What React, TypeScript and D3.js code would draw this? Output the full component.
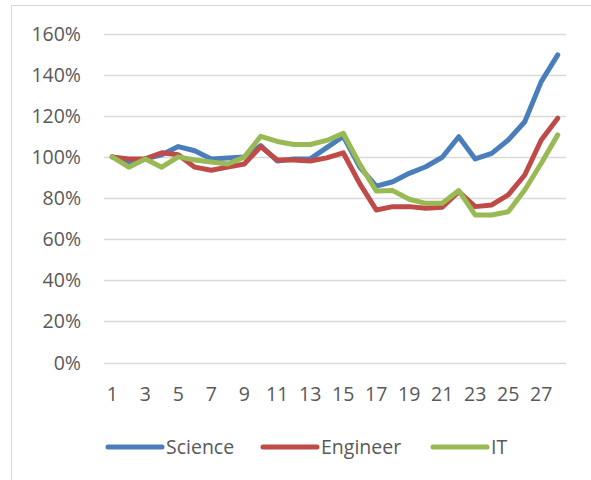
import React from "react";
import * as d3 from "d3";

const categories: number[] = d3.range(1, 29);
const science: number[] = [1.0, 0.97, 0.99, 1.01, 1.05, 1.03, 0.99, 0.995, 1.0, 1.055, 0.98, 0.99, 0.99, 1.045, 1.1, 0.95, 0.858, 0.879, 0.92, 0.952, 0.998, 1.098, 0.99, 1.017, 1.082, 1.171, 1.366, 1.496];
const engineer: number[] = [1.0, 0.99, 0.99, 1.02, 1.01, 0.95, 0.935, 0.95, 0.965, 1.05, 0.985, 0.985, 0.98, 0.995, 1.02, 0.87, 0.742, 0.758, 0.758, 0.75, 0.755, 0.831, 0.758, 0.766, 0.815, 0.912, 1.082, 1.188];
const it: number[] = [1.0, 0.95, 0.99, 0.95, 1.0, 0.985, 0.975, 0.965, 0.999, 1.1, 1.075, 1.06, 1.06, 1.08, 1.115, 0.965, 0.834, 0.836, 0.794, 0.774, 0.774, 0.836, 0.717, 0.717, 0.733, 0.839, 0.969, 1.107];
const seriesNames: string[] = ["Science", "Engineer", "IT"];
const seriesColors: string[] = ["#4A7EBB", "#BE4B48", "#98B954"];
const yTicks: number[] = [0, 0.2, 0.4, 0.6, 0.8, 1.0, 1.2, 1.4, 1.6];
const xTickLabels: number[] = categories.filter((c) => c % 2 === 1);

export default function App() {
  const W = 591, H = 480;
  const left = 104, right = 566, top = 33.5, bottom = 362.5;
  const x = d3.scaleBand<number>().domain(categories).range([left, right]);
  const y = d3.scaleLinear().domain([0, 1.6]).range([bottom, top]);
  const cx = (c: number) => (x(c) as number) + x.bandwidth() / 2;
  const line = d3.line<number>().x((_, i) => cx(categories[i])).y((v) => y(v));
  const allSeries = [science, engineer, it];
  const font = "'Open Sans', sans-serif";
  const legendX = [108, 263, 433];
  return (
    <div style={{ position: "absolute", left: 0, top: 0 }}>
      <svg width={W} height={H} style={{ display: "block", background: "#fff" }}>
        <rect x={11.5} y={5.5} width={600} height={500} fill="#fff" stroke="#d9d9d9" strokeWidth={1} />
        {yTicks.map((t) => (
          <g key={t}>
            <line x1={left} x2={right} y1={Math.round(y(t)) + 0.5} y2={Math.round(y(t)) + 0.5} stroke="#d9d9d9" strokeWidth={1.3} />
            <text x={81} y={y(t)} dy="0.36em" textAnchor="end" fontFamily={font} fontSize={19.5} fill="#595959">
              {d3.format(".0%")(t)}
            </text>
          </g>
        ))}
        {xTickLabels.map((c) => (
          <text key={c} x={cx(c)} y={394} dy="0.36em" textAnchor="middle" fontFamily={font} fontSize={19.5} fill="#595959">
            {c}
          </text>
        ))}
        {allSeries.map((s, i) => (
          <path key={i} d={line(s) || ""} fill="none" stroke={seriesColors[i]} strokeWidth={5} strokeLinejoin="round" strokeLinecap="round" />
        ))}
        {seriesNames.map((n, i) => (
          <g key={n}>
            <line x1={legendX[i]} x2={legendX[i] + 54} y1={447} y2={447} stroke={seriesColors[i]} strokeWidth={5} strokeLinecap="round" />
            <text x={legendX[i] + 58} y={447} dy="0.36em" fontFamily={font} fontSize={19.5} fill="#595959">
              {n}
            </text>
          </g>
        ))}
      </svg>
    </div>
  );
}
